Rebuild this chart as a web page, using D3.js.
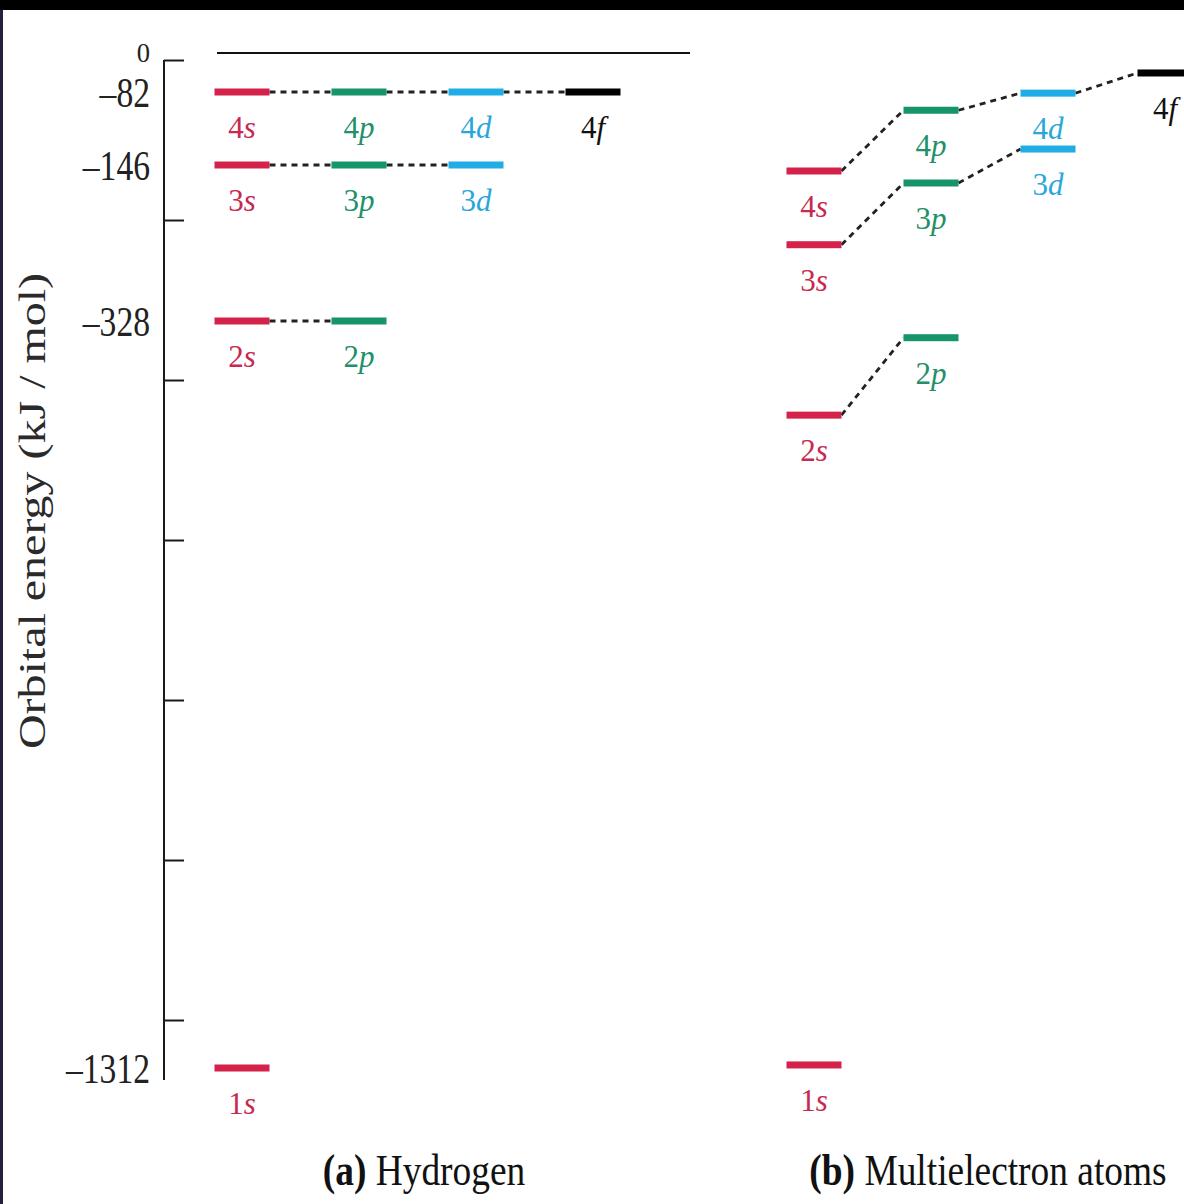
<!DOCTYPE html>
<html>
<head>
<meta charset="utf-8">
<script src="https://cdn.jsdelivr.net/npm/d3@7"></script>
<style>
  html, body { margin: 0; padding: 0; background: #000; }
  svg { display: block; }
  text { font-family: "Liberation Serif", "Times New Roman", serif; }
</style>
</head>
<body>
<script>
// ---------- data ----------
const orbitals      = ["1s", "2s", "2p", "3s", "3p", "3d", "4s", "4p", "4d", "4f"];
const hydrogenEnergy = [-1312, -328, -328, -146, -146, -146, -82, -82, -82, -82];
const multiEnergy    = [-1308, -452, -350, -239, -167, -132, -153, -98, -83, -42];
const subshells     = ["s", "p", "d", "f"];
const axisLabels    = [0, -82, -146, -328, -1312];
const axisTickIndex = [0, 1, 2, 3, 4, 5, 6];
const panelTitles   = [["(a)", " Hydrogen"], ["(b)", " Multielectron atoms"]];
const yTitle = "Orbital energy (kJ / mol)";

// ---------- styling ----------
const W = 1184, H = 1204;
const barColor   = { s: "#d5224b", p: "#16956a", d: "#20ade6", f: "#000000" };
const labelColor = { s: "#c62a50", p: "#23906a", d: "#2aa6da", f: "#111111" };
const barW = 55, barH = 7;

const svg = d3.select("body").append("svg").attr("width", W).attr("height", H);

// frame: black top band, dark left strip, white page
svg.append("rect").attr("width", W).attr("height", H).attr("fill", "#000");
svg.append("rect").attr("x", 0).attr("y", 10).attr("width", 3).attr("height", H - 10).attr("fill", "#22223a");
svg.append("rect").attr("x", 3).attr("y", 10).attr("width", W - 3).attr("height", H - 10).attr("fill", "#fff");

// ---------- scales ----------
// schematic (piecewise linear) energy scale
const y = d3.scaleLinear().domain(axisLabels).range([53, 92, 165, 321, 1068]);
const tickScale = d3.scaleLinear().domain([0, 6]).range([60, 1020]);
const xH = d3.scalePoint().domain(subshells).range([242, 593]);
const xM = d3.scalePoint().domain(subshells).range([814, 1165]);

// ---------- axis ----------
const axisX = 164;
svg.append("line")
  .attr("x1", axisX).attr("x2", axisX)
  .attr("y1", tickScale(0)).attr("y2", y(-1312) + 12)
  .attr("stroke", "#1a1a1a").attr("stroke-width", 2);

const axisG = svg.append("g").attr("transform", `translate(${axisX},0)`)
  .call(d3.axisRight(tickScale).tickValues(axisTickIndex).tickSize(20).tickFormat(""));
axisG.select(".domain").remove();
axisG.selectAll(".tick line").attr("stroke", "#1a1a1a").attr("stroke-width", 2);

const fmt = v => v === 0 ? "0" : "\u2013" + Math.abs(v);
svg.selectAll("g.ylab").data(axisLabels).join("g")
  .attr("class", "ylab")
  .attr("transform", d => d === 0
    ? `translate(150,${y(d) + 9}) scale(0.95,1)`
    : `translate(150,${y(d) + 15}) scale(0.8,1)`)
  .append("text")
  .attr("text-anchor", "end")
  .attr("font-size", d => d === 0 ? 28 : 42)
  .attr("fill", "#222")
  .text(fmt);

svg.append("text")
  .attr("transform", `translate(45,511) rotate(-90) scale(1,0.8)`)
  .attr("text-anchor", "middle")
  .attr("font-size", 48)
  .attr("fill", "#2a2a2a")
  .text(yTitle);

// zero reference line for hydrogen panel
svg.append("line")
  .attr("x1", xH("s") - 25).attr("x2", xH("f") + 97)
  .attr("y1", y(0)).attr("y2", y(0))
  .attr("stroke", "#111").attr("stroke-width", 2);

// ---------- panels ----------
function drawPanel(energies, xs) {
  const data = orbitals.map((o, i) => ({
    name: o, n: +o[0], l: o[1], e: energies[i]
  }));
  const g = svg.append("g");

  // dashed connectors between consecutive subshells with same n
  const links = [];
  data.forEach(a => {
    const nextL = subshells[subshells.indexOf(a.l) + 1];
    const b = data.find(d => d.n === a.n && d.l === nextL);
    if (b) links.push([a, b]);
  });
  g.selectAll("line.link").data(links).join("line")
    .attr("class", "link")
    .attr("x1", d => xs(d[0].l) + barW / 2)
    .attr("y1", d => y(d[0].e))
    .attr("x2", d => xs(d[1].l) - barW / 2)
    .attr("y2", d => y(d[1].e))
    .attr("stroke", "#222").attr("stroke-width", 2.8)
    .attr("stroke-dasharray", "6,5");

  // bars
  g.selectAll("rect.bar").data(data).join("rect")
    .attr("class", "bar")
    .attr("x", d => xs(d.l) - barW / 2)
    .attr("y", d => y(d.e) - barH / 2)
    .attr("width", barW)
    .attr("height", barH)
    .attr("fill", d => barColor[d.l]);

  // labels
  const t = g.selectAll("text.lab").data(data).join("text")
    .attr("class", "lab")
    .attr("x", d => xs(d.l))
    .attr("y", d => y(d.e) + 46)
    .attr("text-anchor", "middle")
    .attr("font-size", 31)
    .attr("fill", d => labelColor[d.l]);
  t.append("tspan").text(d => d.n);
  t.append("tspan").attr("font-style", "italic").text(d => d.l);
}
drawPanel(hydrogenEnergy, xH);
drawPanel(multiEnergy, xM);

// ---------- panel titles ----------
const titleX = [424, 988];
svg.selectAll("g.ptitle").data(panelTitles).join("g")
  .attr("class", "ptitle")
  .attr("transform", (d, i) => `translate(${titleX[i]},1185) scale(0.85,1)`)
  .each(function (d) {
    const tx = d3.select(this).append("text")
      .attr("text-anchor", "middle").attr("font-size", 44).attr("fill", "#111");
    tx.append("tspan").attr("font-weight", "bold").text(d[0]);
    tx.append("tspan").text(d[1]);
  });
</script>
</body>
</html>
